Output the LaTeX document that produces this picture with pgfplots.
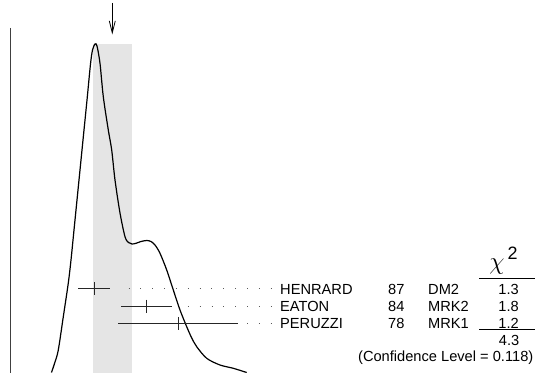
\documentclass[border=0pt]{standalone}
\usepackage{fontspec}
\setmainfont{Liberation Sans}
\usepackage{pgfplots}
\pgfplotsset{compat=1.18}
\usetikzlibrary{arrows.meta}

\begin{document}
\begin{tikzpicture}[every node/.style={font=\fontsize{14.7}{17}\selectfont, inner sep=0pt}]
\begin{axis}[scale only axis, width=535bp, height=373bp,
  xmin=0, xmax=535, ymin=0, ymax=373, y dir=reverse,
  axis lines=none, clip=false]

  % shaded band
  \addplot[fill=black!10, draw=none] coordinates {
    (92.7,44) (131.7,44) (131.7,373) (92.7,373)} -- cycle;

  % left frame line
  \addplot[black!75, line width=1bp] coordinates {(10,28) (10,373)};

  % arrow above the peak
  \addplot[black, line width=0.8bp, -{Straight Barb[length=12bp,width=6bp]}]
    coordinates {(112.3,3) (112.3,34.5)};

  % ideogram curve
  \addplot[black, line width=1.2bp, smooth, tension=0.5] coordinates {
    (51.5,372.5) (55,362) (58.3,350) (63.3,316.7) (68.3,283) (71,260)
    (74,230) (77,200) (80,170) (82,150) (84,130) (87.3,97) (90.5,64)
    (92.5,50) (95,44) (97,46) (100,63.3) (103.3,96.7) (108.3,130)
    (111.7,150) (115,180) (120,213) (125,236.7) (128.5,242.5) (132,244)
    (136,243.3) (141,241.5) (146.7,240.5) (151,241.5) (155,245)
    (160,253.3) (166.7,270) (173.3,290) (180,310) (186.7,326.7)
    (191.5,337.5) (196.7,346.7) (206.7,358.3) (220,365) (233.3,368.3)
    (246.7,372.5)
  };

  % dotted leaders
  \addplot[black!65, line width=1bp, dash pattern=on 1bp off 10.85bp]
    coordinates {(128.5,288.7) (272.5,288.7)};
  \addplot[black!65, line width=1bp, dash pattern=on 1bp off 10.85bp]
    coordinates {(187.8,306) (272.5,306)};
  \addplot[black!65, line width=1bp, dash pattern=on 1bp off 10.85bp]
    coordinates {(247,323.3) (272.5,323.3)};

  % measurements
  \addplot[black!85, only marks, mark=|, mark size=6.5bp,
    mark options={line width=1bp},
    error bars/.cd, x dir=both, x explicit, error mark=none,
    error bar style={line width=1bp}] coordinates {
    (94,288.7) += (16,0) -= (15.7,0)
    (146.7,306) += (25.6,0) -= (25.7,0)
    (178,323.3) += (59.7,0) -= (59.7,0)
  };

  % chi2 rules
  \addplot[black, line width=1bp] coordinates {(479,278.5) (535,278.5)};
  \addplot[black, line width=1bp] coordinates {(479,329.5) (535,329.5)};

  \node[anchor=base west] at (axis cs:280,294) {HENRARD};
  \node[anchor=base west] at (axis cs:280,311.7) {EATON};
  \node[anchor=base west] at (axis cs:280,328.7) {PERUZZI};
  \node[anchor=base west] at (axis cs:388,294) {87};
  \node[anchor=base west] at (axis cs:388,311.7) {84};
  \node[anchor=base west] at (axis cs:388,328.7) {78};
  \node[anchor=base west] at (axis cs:428,294) {DM2};
  \node[anchor=base west] at (axis cs:428,311.7) {MRK2};
  \node[anchor=base west] at (axis cs:428,328.7) {MRK1};
  \node[anchor=base east] at (axis cs:519,294) {1.3};
  \node[anchor=base east] at (axis cs:519,311.7) {1.8};
  \node[anchor=base east] at (axis cs:519,328.7) {1.2};
  \node[anchor=base east] at (axis cs:519.5,345) {4.3};
  \node[anchor=base east] at (axis cs:533.5,361.7) {(Confidence Level = 0.118)};
  \node[anchor=base, font=\fontsize{30}{32}\selectfont] at (axis cs:497,269) {$\chi$};
  \node[anchor=base west, font=\fontsize{18}{20}\selectfont] at (axis cs:507.5,259) {2};
\end{axis}
\pgfresetboundingbox
\path (0,0) rectangle (535bp,373bp);
\end{tikzpicture}
\end{document}
